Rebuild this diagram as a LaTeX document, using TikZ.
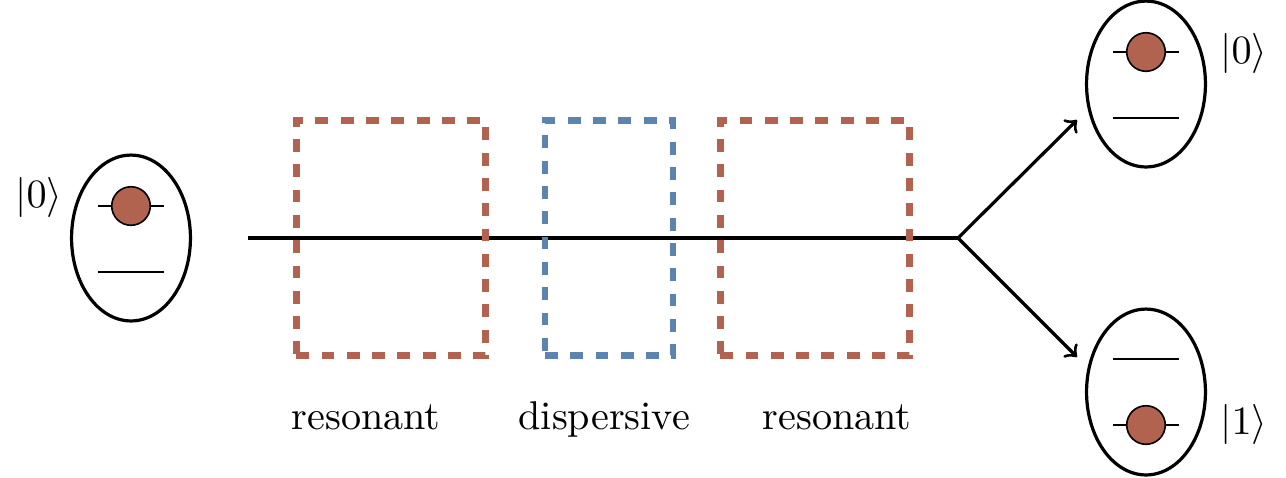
\documentclass[tikz,border=0pt]{standalone}
\usepackage{amsmath}
\usetikzlibrary{positioning, calc, shapes.geometric}
\definecolor{rustRed}{RGB}{178,99,80}
\definecolor{steelBlue}{RGB}{91,132,177}

\begin{document}
\begin{tikzpicture}[
      x=0.249pt, y=-0.249pt,
      node distance=2.7mm,
      qubit/.style={ellipse, draw, thick, minimum width=29.6pt, minimum height=41.3pt, inner sep=0pt},
      electron/.style={circle, draw, thin, fill=rustRed, minimum size=9.6pt, inner sep=0pt},
      level/.style={semithick},
      tickline/.style={thin},
      resbox/.style={rectangle, draw=rustRed, line width=1.7pt, dash pattern=on 3.2pt off 3.1pt,
        minimum width=47.2pt, minimum height=58.5pt, inner sep=0pt},
      dispbox/.style={resbox, draw=steelBlue, minimum width=31.9pt},
      lbl/.style={text height=1.5ex, text depth=.25ex},
      arr/.style={->, thick}
    ]
    \useasboundingbox (0,0) rectangle (1286,477);

    % input qubit
    \node[qubit] (q0) at (131,238) {};
    \draw[tickline] ($(q0)+(-33,-32)$) -- ($(q0)+(33,-32)$);
    \node[electron] (e0) at ($(q0)+(0,-32)$) {};
    \draw[level] ($(q0)+(-33,34)$) -- ($(q0)+(33,34)$);
    \node (k0) at (39,197) {$|0\rangle$};

    % beam
    \coordinate (in) at (248,238);
    \coordinate (split) at (958,238);
    \draw[thick] (in) -- (split);

    % pulses
    \node[resbox] (res1) at (391,238) {};
    \node[dispbox] (disp) at (609,238) {};
    \node[resbox] (res2) at (815,238) {};
    \node[lbl, below=of res1, xshift=-6.2pt] (l1) {resonant};
    \node[lbl, below=of disp, xshift=-1.2pt] (l2) {dispersive};
    \node[lbl, below=of res2, xshift=5.5pt] (l3) {resonant};

    % output qubits
    \node[qubit] (q1) at (1146,84) {};
    \draw[tickline] ($(q1)+(-33,-32)$) -- ($(q1)+(33,-32)$);
    \node[electron] (e1) at ($(q1)+(0,-32)$) {};
    \draw[level] ($(q1)+(-33,34)$) -- ($(q1)+(33,34)$);
    \node (k1) at (1244,53) {$|0\rangle$};

    \node[qubit] (q2) at (1146,392) {};
    \draw[level] ($(q2)+(-33,-33)$) -- ($(q2)+(33,-33)$);
    \draw[tickline] ($(q2)+(-33,33)$) -- ($(q2)+(33,33)$);
    \node[electron] (e2) at ($(q2)+(0,33)$) {};
    \node (k2) at (1244,424) {$|1\rangle$};

    \coordinate (up) at (1077,120);
    \coordinate (down) at (1077,357);
    \draw[arr] (split) -- (up);
    \draw[arr] (split) -- (down);
  \end{tikzpicture}
\end{document}
